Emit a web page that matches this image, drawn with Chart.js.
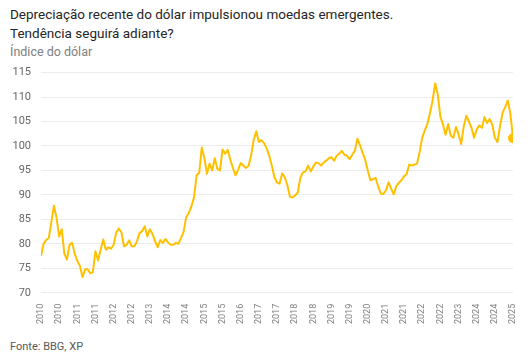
<!DOCTYPE html>
<html lang="pt-BR">
<head>
<meta charset="utf-8">
<script src="https://cdn.jsdelivr.net/npm/chart.js@4.4.1/dist/chart.umd.min.js"></script>
<style>
  body { margin: 0; background: #fff; font-family: Roboto, "Liberation Sans", sans-serif; }
  #wrap { position: relative; width: 531px; height: 364px; overflow: hidden; }
  .title { position: absolute; left: 10px; top: 5px; font-size: 13.5px; line-height: 19px; color: #262626; }
  .sub { position: absolute; left: 10px; top: 44px; font-size: 12.5px; color: #808080; }
  .src { position: absolute; left: 10px; top: 340px; font-size: 11px; color: #595959; }
  #box { position: absolute; left: 0; top: 56px; width: 531px; height: 271px; }
</style>
</head>
<body>
<div id="wrap">
  <div class="title">Depreciação recente do dólar impulsionou moedas emergentes.<br>Tendência seguirá adiante?</div>
  <div class="sub">Índice do dólar</div>
  <div id="box"><canvas id="dxyChart"></canvas></div>
  <div class="src">Fonte: BBG, XP</div>
</div>
<script>
// índice do dólar, um valor por mês a partir de jan/2010
const startYear = 2010;
const dollarIndex = [
  77.5, 80.0, 80.8, 81.2, 84.5, 87.8, 85.3, 81.5, 83.0, 78.0, 76.8, 79.8,        // 2010
  80.2, 78.0, 76.5, 75.5, 73.2, 74.8, 74.8, 74.0, 74.2, 78.5, 76.6, 78.8,        // 2011
  80.9, 78.8, 79.3, 79.0, 79.8, 82.3, 83.1, 82.4, 79.5, 79.8, 80.7, 79.5,        // 2012
  79.5, 80.5, 82.2, 82.6, 83.6, 81.5, 83.0, 82.0, 80.5, 79.3, 80.8, 80.2,        // 2013
  81.0, 80.3, 79.8, 79.8, 80.2, 80.0, 81.2, 82.5, 85.5, 86.3, 87.7, 89.5,        // 2014
  94.0, 94.5, 99.7, 97.5, 94.3, 96.4, 95.0, 97.5, 95.3, 95.0, 99.3, 98.4,        // 2015
  99.2, 97.2, 95.5, 94.0, 95.1, 96.5, 96.0, 95.5, 95.9, 98.0, 101.2, 103.0,      // 2016
  100.8, 101.2, 100.6, 99.5, 98.0, 96.0, 93.6, 92.5, 92.3, 94.4, 93.6, 92.0,     // 2017
  89.6, 89.5, 89.9, 90.5, 93.5, 94.6, 94.8, 96.0, 94.8, 95.8, 96.6, 96.5,        // 2018
  96.0, 96.6, 97.0, 97.5, 97.7, 97.0, 98.0, 98.4, 99.0, 98.2, 98.0, 97.3,        // 2019
  98.2, 99.0, 101.5, 100.2, 98.6, 97.2, 95.0, 93.0, 93.2, 93.5, 91.8, 90.3,      // 2020
  90.2, 90.9, 92.6, 91.3, 90.1, 91.8, 92.5, 93.0, 93.8, 94.3, 96.2, 96.0,        // 2021
  96.2, 96.4, 98.8, 101.7, 103.2, 104.5, 106.8, 109.3, 112.8, 110.5, 106.0, 104.4, // 2022
  102.3, 104.5, 102.1, 101.7, 103.9, 102.4, 100.4, 104.0, 106.2, 105.0, 103.7, 101.7, // 2023
  103.4, 104.2, 103.7, 105.9, 104.7, 105.5, 104.4, 101.7, 100.8, 104.1, 106.8, 108.0, // 2024
  109.3, 106.5, 101.6                                                             // 2025
];
// rótulos do eixo x: um a cada 7 meses
const tickStep = 7;
const tickLabels = ['2010', '2010', '2011', '2011', '2012', '2012', '2013', '2014', '2014',
  '2015', '2015', '2016', '2017', '2017', '2018', '2018', '2019', '2019', '2020',
  '2021', '2021', '2022', '2022', '2023', '2024', '2024', '2025'];
const yTicks = [70, 75, 80, 85, 90, 95, 100, 105, 110, 115];

const points = dollarIndex.map((v, i) => ({ x: i, y: v }));
const lastIdx = points.length - 1;

const ctx = document.getElementById('dxyChart').getContext('2d');
const dxyChart = new Chart(ctx, {
  type: 'line',
  data: {
    datasets: [{
      label: 'Índice do dólar',
      data: points,
      borderColor: '#FFC000',
      backgroundColor: '#FFC000',
      borderWidth: 2,
      tension: 0,
      pointRadius: c => c.dataIndex === lastIdx ? 4 : 0,
      pointHoverRadius: 0,
      borderJoinStyle: 'round'
    }]
  },
  options: {
    responsive: true,
    maintainAspectRatio: false,
    animation: false,
    layout: { padding: { left: 7, right: 18, top: 4, bottom: 0 } },
    scales: {
      x: {
        type: 'linear',
        min: 0,
        max: lastIdx,
        grid: { display: false },
        border: { display: false },
        ticks: {
          stepSize: tickStep,
          autoSkip: false,
          maxRotation: 90,
          minRotation: 90,
          padding: 3,
          color: '#808080',
          font: { family: 'Roboto', size: 9 },
          callback: v => tickLabels[Math.round(v / tickStep)]
        }
      },
      y: {
        min: yTicks[0],
        max: yTicks[yTicks.length - 1],
        afterFit: s => { s.width = 34; },
        grid: { color: '#ececec', drawTicks: false },
        border: { display: false },
        ticks: {
          stepSize: 5,
          padding: 10,
          color: '#666',
          font: { family: 'Roboto', size: 11 }
        }
      }
    },
    plugins: {
      legend: { display: false },
      tooltip: { enabled: false }
    }
  }
});
</script>
</body>
</html>
